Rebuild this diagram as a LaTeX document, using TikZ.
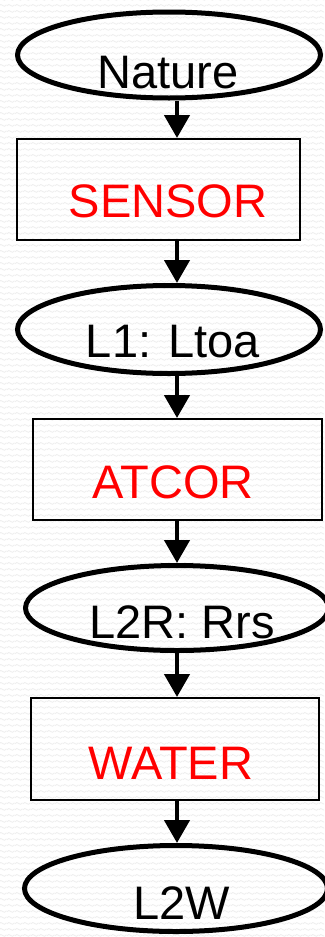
\documentclass[tikz,border=0pt]{standalone}
\usepackage{fontspec}
\setmainfont{Liberation Sans}
\usetikzlibrary{arrows.meta,patterns,shapes.geometric}

% faint wavy paper texture
\pgfdeclarepatternformonly{waves}{\pgfpoint{0pt}{0pt}}{\pgfpoint{8pt}{6pt}}{\pgfpoint{8pt}{6pt}}{%
  \pgfsetlinewidth{0.9pt}%
  \pgfpathmoveto{\pgfpoint{-0.5pt}{2.3pt}}%
  \pgfpathcurveto{\pgfpoint{1pt}{4.5pt}}{\pgfpoint{3pt}{4.5pt}}{\pgfpoint{4pt}{3pt}}%
  \pgfpathcurveto{\pgfpoint{5pt}{1.5pt}}{\pgfpoint{7pt}{1.5pt}}{\pgfpoint{8.5pt}{3.7pt}}%
  \pgfusepath{stroke}%
}

\definecolor{tex}{RGB}{238,238,238}
\definecolor{lblred}{RGB}{255,0,0}

\begin{document}
\begin{tikzpicture}[x=1pt,y=-1pt,
  data/.style={ellipse,draw,line width=5pt,inner sep=0pt,
    minimum width=303pt,minimum height=86pt},
  proc/.style={rectangle,draw,line width=2pt,inner sep=0pt,
    minimum height=101pt},
  txt/.style={anchor=base,inner sep=0pt,font=\fontsize{47}{52}\selectfont},
  ptxt/.style={txt,text=lblred},
  flow/.style={line width=4.5pt,-{Triangle[length=23pt,width=25pt]}}]

  \useasboundingbox (0,0) rectangle (324,937);
  \fill[white] (0,0) rectangle (324,937);
  \fill[pattern=waves,pattern color=tex] (0,0) rectangle (324,937);

  % column of the arrows
  \coordinate (axis) at (177,0);

  % shapes
  \node[data] (nature) at (169,55) {};
  \node[proc,minimum width=283pt] (sensor) at (158.5,189.5) {};
  \node[data,minimum height=88pt] (lone) at (169,329.5) {};
  \node[proc,minimum width=289pt] (atcor) at (177.5,469.5) {};
  \node[data,minimum height=85pt] (ltwor) at (177,608) {};
  \node[proc,minimum width=288pt,minimum height=102pt] (water) at (175,749) {};
  \node[data] (ltwow) at (176,888.5) {};

  % labels
  \node[txt] (natureT) at (168,88) {Nature};
  \node[ptxt] (sensorT) at (168,217) {SENSOR};
  \node[txt] (loneT) at (173,357) {L1: Ltoa};
  \node[ptxt] (atcorT) at (173,498) {ATCOR};
  \node[txt] (ltworT) at (182,638) {L2R: Rrs};
  \node[ptxt] (waterT) at (171,779) {WATER};
  \node[txt] (ltwowT) at (182,919) {L2W};

  % connectors
  \draw[flow] (nature.south -| axis) -- (sensor.north -| axis);
  \draw[flow] (sensor.south -| axis) -- (lone.north -| axis);
  \draw[flow] (lone.south -| axis) -- (atcor.north -| axis);
  \draw[flow] (atcor.south -| axis) -- (ltwor.north -| axis);
  \draw[flow] (ltwor.south -| axis) -- (water.north -| axis);
  \draw[flow] (water.south -| axis) -- (ltwow.north -| axis);
\end{tikzpicture}
\end{document}
